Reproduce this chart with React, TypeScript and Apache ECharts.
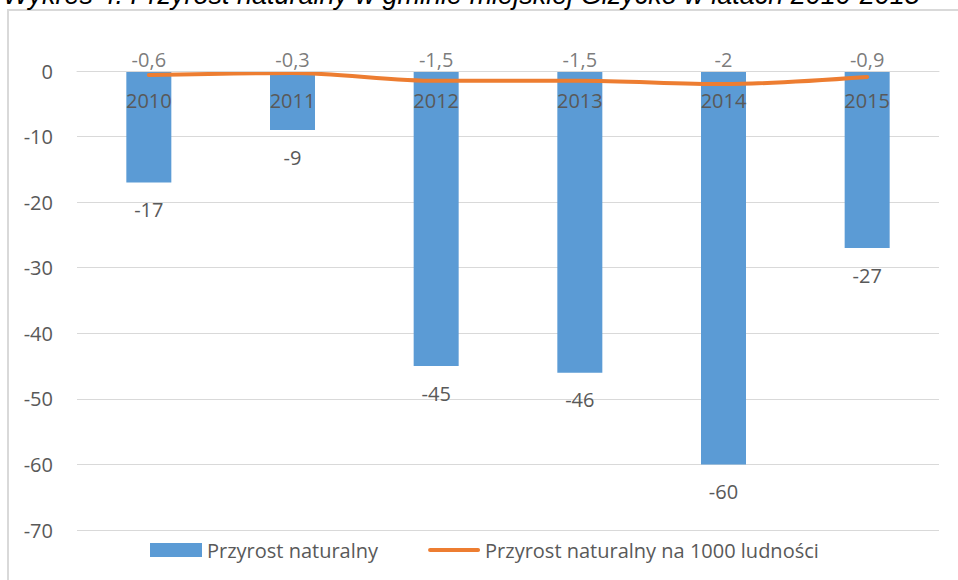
import React, { useEffect, useRef } from "react";
import * as echarts from "echarts";

const titleText = "Wykres 4. Przyrost naturalny w gminie miejskiej Giżycko w latach 2010-2015";
const categories = ["2010", "2011", "2012", "2013", "2014", "2015"];
const naturalIncrease = [-17, -9, -45, -46, -60, -27];
const per1000 = [-0.6, -0.3, -1.5, -1.5, -2, -0.9];
const seriesNames = ["Przyrost naturalny", "Przyrost naturalny na 1000 ludności"];
const yMin = -70;
const yMax = 0;
const yStep = 10;

const FONT = "Open Sans";
const TEXT = "#595959";
const GRID = "#D9D9D9";

const fmt = (v: number) => String(v).replace(".", ",");

const lineIcon =
  "path://M0,0 L0,0 Z M52,14 L52,14 Z M2,5 L50,5 A2,2 0 0 1 50,9 L2,9 A2,2 0 0 1 2,5 Z";

export default function App() {
  const ref = useRef<HTMLDivElement>(null);
  useEffect(() => {
    if (!ref.current) return;
    const chart = echarts.init(ref.current, undefined, { renderer: "svg" });
    chart.setOption({
      animation: false,
      backgroundColor: "#ffffff",
      textStyle: { fontFamily: FONT },
      graphic: [
        {
          type: "rect",
          shape: { x: 8, y: 10, width: 1000, height: 700 },
          style: { fill: "none", stroke: GRID, lineWidth: 2 },
          silent: true,
          z: -10,
        },
        {
          type: "text",
          x: 3,
          y: 8,
          style: {
            text: titleText,
            font: "italic 27px 'Liberation Sans'",
            fill: "#000000",
            verticalAlign: "bottom",
          },
          silent: true,
        },
      ],
      grid: { left: 77, right: 19, top: 71, bottom: 50, containLabel: false },
      legend: {
        data: [
          { name: seriesNames[0], icon: "rect" },
          { name: seriesNames[1], icon: lineIcon },
        ],
        left: 145,
        top: 535,
        itemWidth: 52,
        itemHeight: 14,
        itemGap: 50,
        textStyle: { color: TEXT, fontSize: 20, fontFamily: FONT },
      },
      xAxis: {
        type: "category",
        data: categories,
        position: "top",
        z: 10,
        axisLine: { show: true, lineStyle: { color: GRID } },
        axisTick: { show: false },
        axisLabel: { inside: true, color: TEXT, fontSize: 20, fontFamily: FONT, margin: 19 },
        splitLine: { show: false },
      },
      yAxis: {
        type: "value",
        min: yMin,
        max: yMax,
        interval: yStep,
        axisLine: { show: false },
        axisTick: { show: false },
        axisLabel: { color: TEXT, fontSize: 20, fontFamily: FONT, margin: 24 },
        splitLine: { lineStyle: { color: GRID, width: 1 } },
      },
      series: [
        {
          name: seriesNames[0],
          type: "bar",
          data: naturalIncrease,
          barWidth: 45,
          itemStyle: { color: "#5B9BD5" },
          label: {
            show: true,
            position: "bottom",
            distance: 17,
            color: TEXT,
            fontSize: 20,
            fontFamily: FONT,
            formatter: (p: any) => fmt(p.value),
          },
        },
        {
          name: seriesNames[1],
          type: "line",
          data: per1000,
          smooth: 0.3,
          symbol: "none",
          showSymbol: false,
          lineStyle: { color: "#ED7D31", width: 4, cap: "round" },
          itemStyle: { color: "#ED7D31" },
          z: 5,
        },
        {
          name: "labels",
          type: "scatter",
          data: per1000.map(() => 0),
          symbolSize: 0,
          silent: true,
          z: 6,
          label: {
            show: true,
            position: "top",
            distance: 2,
            color: TEXT,
            fontSize: 20,
            fontFamily: FONT,
            formatter: (p: any) => fmt(per1000[p.dataIndex]),
          },
        },
      ],
    });
    return () => chart.dispose();
  }, []);
  return (
    <div
      ref={ref}
      style={{ position: "absolute", left: 0, top: 0, width: 958, height: 580 }}
    />
  );
}
